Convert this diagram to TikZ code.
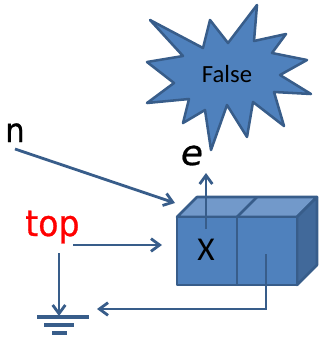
\documentclass[tikz,border=0pt]{standalone}
\usepackage{fontspec}
\setmainfont{Carlito}
\newfontfamily\comic[FakeStretch=0.92,FakeBold=0.8]{DejaVu Sans}
\newfontfamily\comicsl[FakeStretch=1.05,FakeSlant=0.15,FakeBold=0.8]{DejaVu Sans}
\definecolor{fillb}{HTML}{4F81BD}
\definecolor{lineb}{HTML}{385D8A}
\definecolor{topb}{HTML}{7299CA}
\definecolor{sideb}{HTML}{41699A}
\usetikzlibrary{arrows.meta}
\tikzset{
 x=0.75pt,y=-0.75pt,
 shp/.style={draw=lineb,line width=1.9pt,line join=round},
 arr/.style={draw=lineb,line width=2.1pt,-{Straight Barb[length=6.5pt,width=9.5pt,line width=2.1pt]}},
 gnd/.style={draw=lineb,line width=3pt},
 lab/.style={inner sep=0pt,anchor=base west}
}
\begin{document}
\begin{tikzpicture}
\useasboundingbox (0,0) rectangle (320,339);
\draw[shp,fill=fillb] (150,20) -- (203,48) -- (210,20) -- (228,43) -- (257,5) -- (254,41) -- (286,34) -- (272,53) -- (307,60) -- (280,75) -- (311,94) -- (274,92) -- (284,126) -- (253,102) -- (247,137) -- (227,105) -- (211,150) -- (205,110) -- (183,123) -- (189,99) -- (147,103) -- (174,83) -- (147,62) -- (183,56) -- cycle;
\node[inner sep=0pt,font=\fontsize{18.5}{18.5}\selectfont] (f) at (227,74) {False};
\draw[shp,fill=topb] (177,217) -- (197,197) -- (317,197) -- (297,217) -- cycle;
\draw[shp] (237,217) -- (257,197);
\draw[shp,fill=sideb] (297,217) -- (317,197) -- (317,265) -- (297,285) -- cycle;
\draw[shp,fill=fillb] (177,217) rectangle (237,285);
\draw[shp,fill=fillb] (237,217) rectangle (297,285);
\node[inner sep=0pt,font=\fontsize{25}{25}\selectfont] (x) at (206,250) {X};
\coordinate (xs) at (206,229);
\coordinate (xe) at (206,173);
\draw[arr] (xs) -- (xe);
\node[lab,font=\comicsl\fontsize{26}{26}\selectfont] (e) at (179,165) {e};
\node[lab,font=\comic\fontsize{25}{25}\selectfont] (n) at (5,142) {n};
\node[lab,text=red,font=\comic\fontsize{27}{27}\selectfont] (top) at (25,236) {top};
\coordinate (ns) at (15,149);
\coordinate (ne) at (175,203);
\draw[arr] (ns) -- (ne);
\coordinate (ts) at (73,245);
\coordinate (te) at (162,245);
\draw[arr] (ts) -- (te);
\coordinate (gs) at (59,253);
\coordinate (gt) at (59,316);
\draw[arr] (gs) -- (gt);
\draw[gnd] (37,317) -- (89,317);
\draw[gnd] (44,325) -- (74,325);
\draw[gnd] (52,333) -- (67,333);
\coordinate (bs) at (266,254);
\coordinate (bc) at (266,309);
\coordinate (be) at (97,309);
\draw[arr] (bs) -- (bc) -- (be);
\end{tikzpicture}
\end{document}
